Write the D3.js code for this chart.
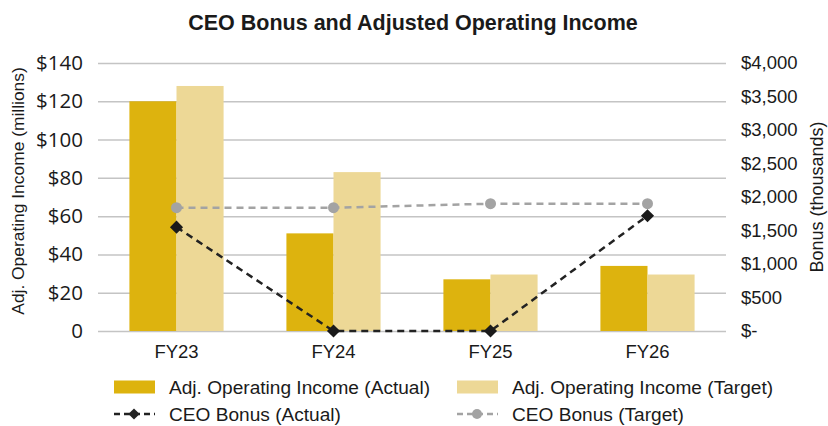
<!DOCTYPE html>
<html>
<head>
<meta charset="utf-8">
<script src="https://cdn.jsdelivr.net/npm/d3@7"></script>
<style>
  body { margin: 0; background: #fff; }
  text { font-family: "Liberation Sans", Arial, sans-serif; fill: #1a1a1a; }
</style>
</head>
<body>
<div id="chart"></div>
<script>
// data
var years = ["FY23", "FY24", "FY25", "FY26"];
var incomeActual = [120, 51, 27, 34];      // $ millions
var incomeTarget = [128, 83, 29.5, 29.5];
var bonusActual = [1550, 0, 0, 1720];      // $ thousands
var bonusTarget = [1840, 1840, 1900, 1900];
var leftTicks = [0, 20, 40, 60, 80, 100, 120, 140];
var rightTicks = [0, 500, 1000, 1500, 2000, 2500, 3000, 3500, 4000];

function drawChart(){
  var W = 828, H = 426;
  var margin = {top: 63, right: 102, bottom: 95, left: 98};
  var width = W - margin.left - margin.right, height = H - margin.top - margin.bottom;

  var svg = d3.select("#chart").append("svg")
      .attr("width", W).attr("height", H);
  var g = svg.append("g")
      .attr("transform", "translate(" + margin.left + "," + margin.top + ")");

  // title
  svg.append("text")
    .attr("x", 413).attr("y", 30)
    .attr("text-anchor", "middle")
    .attr("font-size", 21.5)
    .attr("font-weight", "bold")
    .text("CEO Bonus and Adjusted Operating Income");

  // scales
  var x = d3.scaleBand().domain(years).range([0, width]);
  var x1 = d3.scaleBand().domain(["actual", "target"])
      .range([0, x.bandwidth()]).paddingOuter(0.667);
  var yL = d3.scaleLinear().domain([0, 140]).range([height, 0]);
  var yR = d3.scaleLinear().domain([0, 4000]).range([height, 0]);

  // gridlines
  g.append("g")
    .call(d3.axisLeft(yL).tickValues(leftTicks).tickSize(-width).tickFormat(""))
    .call(a => a.select(".domain").remove())
    .call(a => a.selectAll("line").attr("stroke", "#c4c4c4").attr("stroke-width", 1.5));

  // left axis labels
  g.append("g")
    .attr("transform", "translate(-12,0)")
    .call(d3.axisLeft(yL).tickValues(leftTicks).tickSize(0)
      .tickFormat(d => d === 0 ? "0" : "$" + d))
    .call(a => a.select(".domain").remove())
    .call(a => a.selectAll("text")
      .style("font-family", "'Open Sans', sans-serif")
      .attr("font-size", 20.5).attr("fill", "#1a1a1a"));

  // right axis labels
  g.append("g")
    .attr("transform", "translate(" + (width + 12) + ",0)")
    .call(d3.axisRight(yR).tickValues(rightTicks).tickSize(0)
      .tickFormat(d => d === 0 ? "$-" : "$" + d3.format(",")(d)))
    .call(a => a.select(".domain").remove())
    .call(a => a.selectAll("text").attr("font-size", 18.5).attr("fill", "#1a1a1a"));

  // x axis labels
  g.append("g")
    .attr("transform", "translate(0," + height + ")")
    .call(d3.axisBottom(x).tickSize(0).tickPadding(14))
    .call(a => a.select(".domain").remove())
    .call(a => a.selectAll("text").attr("font-size", 18.5).attr("fill", "#1a1a1a"));

  // axis titles
  svg.append("text")
    .attr("transform", "translate(24,191) rotate(-90)")
    .attr("text-anchor", "middle")
    .attr("font-size", 17.4)
    .text("Adj. Operating Income (millions)");

  svg.append("text")
    .attr("transform", "translate(823," + (margin.top + height / 2) + ") rotate(-90)")
    .attr("text-anchor", "middle")
    .attr("font-size", 18)
    .text("Bonus (thousands)");

  // bars
  var colors = {actual: "#ddb30e", target: "#edd896"};
  var barData = [];
  years.forEach(function(y, i){
    barData.push({year: y, key: "actual", value: incomeActual[i]});
    barData.push({year: y, key: "target", value: incomeTarget[i]});
  });
  g.selectAll("rect.bar")
    .data(barData)
    .enter().append("rect")
    .attr("class", "bar")
    .attr("x", d => x(d.year) + x1(d.key))
    .attr("width", x1.bandwidth())
    .attr("y", d => yL(d.value))
    .attr("height", d => height - yL(d.value))
    .attr("fill", d => colors[d.key]);

  // bonus lines
  var cx = function(d, i){ return x(years[i]) + x.bandwidth() / 2; };
  var line = d3.line().x(cx).y(d => yR(d));

  g.append("path")
    .datum(bonusTarget)
    .attr("fill", "none")
    .attr("stroke", "#a3a3a3")
    .attr("stroke-width", 2.5)
    .attr("stroke-dasharray", "7,5")
    .attr("d", line);
  g.selectAll("circle.tgt")
    .data(bonusTarget)
    .enter().append("circle")
    .attr("class", "tgt")
    .attr("cx", cx)
    .attr("cy", d => yR(d))
    .attr("r", 5.5)
    .attr("fill", "#a3a3a3");

  g.append("path")
    .datum(bonusActual)
    .attr("fill", "none")
    .attr("stroke", "#222")
    .attr("stroke-width", 2.5)
    .attr("stroke-dasharray", "7,5")
    .attr("d", line);
  var diamond = d3.symbol().type(d3.symbolDiamond2).size(110);
  g.selectAll("path.act")
    .data(bonusActual)
    .enter().append("path")
    .attr("class", "act")
    .attr("transform", (d, i) => "translate(" + cx(d, i) + "," + yR(d) + ")")
    .attr("d", diamond)
    .attr("fill", "#1a1a1a");

  // legend
  var legendItems = [
    {label: "Adj. Operating Income (Actual)", type: "bar", color: colors.actual},
    {label: "Adj. Operating Income (Target)", type: "bar", color: colors.target},
    {label: "CEO Bonus (Actual)", type: "diamond", color: "#222"},
    {label: "CEO Bonus (Target)", type: "circle", color: "#a3a3a3"}
  ];
  var legend = svg.append("g").attr("class", "legend");
  var item = legend.selectAll("g")
    .data(legendItems)
    .enter().append("g")
    .attr("transform", (d, i) => "translate(" + (i % 2 === 0 ? 114 : 457) + "," + (i < 2 ? 387 : 414) + ")");

  item.filter(d => d.type === "bar").append("rect")
    .attr("x", 0).attr("y", -6.5).attr("width", 41).attr("height", 13)
    .attr("fill", d => d.color);
  item.filter(d => d.type !== "bar").append("line")
    .attr("x1", 0).attr("x2", 41).attr("y1", 0).attr("y2", 0)
    .attr("stroke", d => d.color).attr("stroke-width", 2.5)
    .attr("stroke-dasharray", "6,4");
  item.filter(d => d.type === "diamond").append("path")
    .attr("transform", "translate(20,0)")
    .attr("d", d3.symbol().type(d3.symbolDiamond2).size(80))
    .attr("fill", d => d.color);
  item.filter(d => d.type === "circle").append("circle")
    .attr("cx", 20).attr("r", 5).attr("fill", d => d.color);
  item.append("text")
    .attr("x", 55).attr("y", 0)
    .attr("dy", "0.35em")
    .attr("font-size", 19.1)
    .text(d => d.label);
}

drawChart();
</script>
</body>
</html>
